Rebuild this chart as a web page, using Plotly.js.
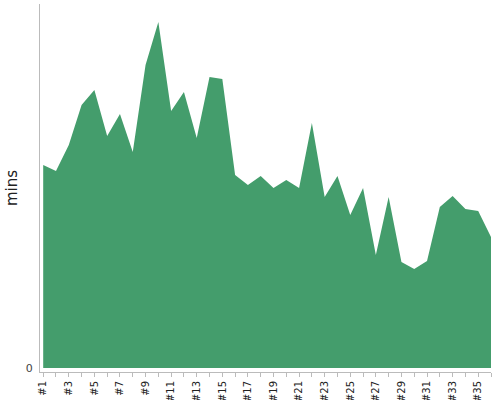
<!DOCTYPE html>
<html>
<head>
<meta charset="utf-8">
<script src="https://cdn.plot.ly/plotly-3.0.1.min.js"></script>
<style>html,body{margin:0;padding:0;background:#fff;}#chart{width:500px;height:400px;}</style>
</head>
<body>
<div id="chart"></div>
<script>
const labels = ['#1','#2','#3','#4','#5','#6','#7','#8','#9','#10','#11','#12','#13','#14','#15','#16','#17','#18',
                '#19','#20','#21','#22','#23','#24','#25','#26','#27','#28','#29','#30','#31','#32','#33','#34','#35','#36'];
const mins = [20.3,19.7,22.3,26.3,27.8,23.2,25.4,21.6,30.3,34.6,25.7,27.6,23.0,29.1,28.9,19.3,18.3,19.2,
              18.0,18.8,18.0,24.5,17.1,19.2,15.3,18.0,11.3,17.1,10.6,9.9,10.7,16.1,17.2,15.9,15.7,13.1];

const xs = labels.map((_, i) => i);
const tickIdx = xs.filter(i => i % 2 === 0 && i < labels.length - 1);

const trace = {
  x: xs,
  y: mins,
  type: 'scatter',
  mode: 'none',
  fill: 'tozeroy',
  fillcolor: '#449d6c',
  hoverinfo: 'skip'
};

const layout = {
  width: 500,
  height: 400,
  margin: {l: 40, r: 9, t: 4, b: 28},
  paper_bgcolor: '#fff',
  plot_bgcolor: '#fff',
  showlegend: false,
  font: {family: 'DejaVu Sans, sans-serif', color: '#333'},
  xaxis: {
    range: [-0.25, 35],
    tickvals: tickIdx,
    ticktext: tickIdx.map(i => labels[i]),
    tickangle: -90,
    tickfont: {size: 10, color: '#222'},
    ticks: 'outside',
    ticklen: 4,
    tickcolor: '#bbb',
    minor: {dtick: 1, tick0: 0, ticks: 'outside', ticklen: 4, tickcolor: '#bbb', showgrid: false},
    showline: true,
    linecolor: '#bbb',
    linewidth: 1,
    showgrid: false,
    zeroline: false,
    fixedrange: true
  },
  yaxis: {
    range: [-0.4, 36.4],
    tickvals: [0],
    ticktext: ['0'],
    tickfont: {size: 11, color: '#444'},
    ticks: '',
    ticklabelstandoff: 4,
    showline: true,
    linecolor: '#bbb',
    linewidth: 1,
    showgrid: false,
    zeroline: false,
    title: {text: 'mins', font: {size: 15, color: '#222'}, standoff: 4},
    fixedrange: true
  }
};

Plotly.newPlot('chart', [trace], layout, {displayModeBar: false, staticPlot: true});
</script>
</body>
</html>
